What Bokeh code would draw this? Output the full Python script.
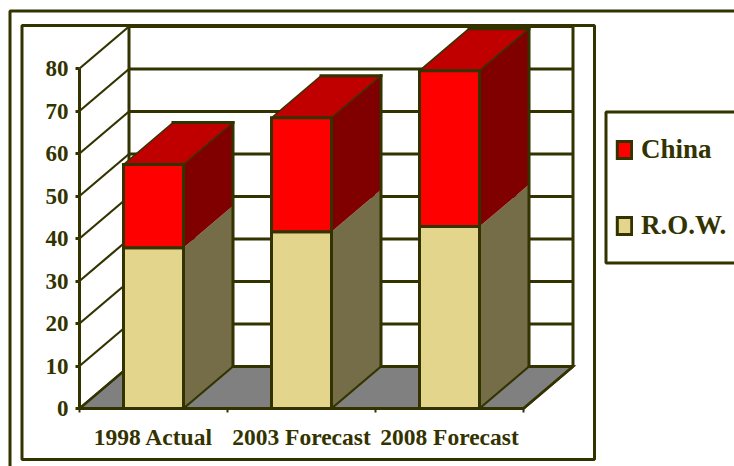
from bokeh.embed import file_html
from bokeh.models import BoxAnnotation, FixedTicker, Legend, LegendItem, Range1d
from bokeh.plotting import figure
from bokeh.resources import INLINE

categories = ["1998 Actual", "2003 Forecast", "2008 Forecast"]
row_values = [37.8, 41.6, 42.8]
china_values = [19.6, 26.8, 36.7]
y_ticks = [0, 10, 20, 30, 40, 50, 60, 70, 80]

INK = "#333300"
RED, RED_TOP, RED_SIDE = "#FF0000", "#C00000", "#800000"
TAN, TAN_SIDE = "#E3D68C", "#746D48"
FLOOR = "#808080"
FONT = "Liberation Serif"

# Scale of the plot area: one category slot and one value unit, in pixels.
WIDTH, HEIGHT = 734, 466
SLOT_PX, UNIT_PX = 148, 4.25
ORIGIN_X, ORIGIN_Y = 79, 408
DEPTH_X = 49.5 / SLOT_PX
DEPTH_Y = 42 / UNIT_PX
BAR_WIDTH = 60 / SLOT_PX
N = len(categories)

# The frame fills the page; the axes are pinned to the origin inside it.
p = figure(
    width=WIDTH, height=HEIGHT, output_backend="svg", toolbar_location=None,
    x_range=Range1d(-ORIGIN_X / SLOT_PX, (WIDTH - ORIGIN_X) / SLOT_PX),
    y_range=Range1d(-(HEIGHT - ORIGIN_Y) / UNIT_PX, ORIGIN_Y / UNIT_PX),
    min_border=0,
    outline_line_color=None, background_fill_color="white",
    border_fill_color="white",
)
p.xgrid.visible = False
p.ygrid.visible = False

# Floor of the box.
p.patch([0, N, N + DEPTH_X, DEPTH_X], [0, 0, DEPTH_Y, DEPTH_Y],
        fill_color=FLOOR, line_color=INK, line_width=2.5, line_join="miter")

# Gridlines: a diagonal on the side wall, a horizontal on the back wall.
for t in y_ticks:
    p.line([0, DEPTH_X], [t, t + DEPTH_Y], line_color=INK, line_width=2.2)
    p.line([DEPTH_X, N + DEPTH_X], [t + DEPTH_Y, t + DEPTH_Y],
           line_color=INK, line_width=3)
top = y_ticks[-1] + DEPTH_Y
p.line([DEPTH_X, DEPTH_X], [DEPTH_Y, top], line_color=INK, line_width=3)
p.line([N + DEPTH_X, N + DEPTH_X], [DEPTH_Y, top], line_color=INK, line_width=3)
p.line([N, N + DEPTH_X], [0, DEPTH_Y], line_color=INK, line_width=2.5)

# Extruded stacked bars: side and top faces first, then the front faces.
centers = [i + 0.5 for i in range(N)]
tops = [r + c for r, c in zip(row_values, china_values)]
for cx, r, t in zip(centers, row_values, tops):
    x0, x1 = cx - BAR_WIDTH / 2, cx + BAR_WIDTH / 2
    p.patch([x1, x1 + DEPTH_X, x1 + DEPTH_X, x1], [0, DEPTH_Y, r + DEPTH_Y, r],
            fill_color=TAN_SIDE, line_color=None)
    p.patch([x1, x1 + DEPTH_X, x1 + DEPTH_X, x1], [r, r + DEPTH_Y, t + DEPTH_Y, t],
            fill_color=RED_SIDE, line_color=None)
    p.patch([x0, x1, x1 + DEPTH_X, x0 + DEPTH_X], [t, t, t + DEPTH_Y, t + DEPTH_Y],
            fill_color=RED_TOP, line_color=None)
    p.line([x1, x1 + DEPTH_X], [0, DEPTH_Y], line_color=INK, line_width=2.2)
    p.line([x1 + DEPTH_X, x1 + DEPTH_X], [DEPTH_Y, t + DEPTH_Y],
           line_color=INK, line_width=3, line_cap="square")
    p.line([x0 + DEPTH_X, x1 + DEPTH_X], [t + DEPTH_Y, t + DEPTH_Y],
           line_color=INK, line_width=3, line_cap="square")
    p.line([x0, x0 + DEPTH_X], [t, t + DEPTH_Y], line_color=INK, line_width=1.5)
    p.line([x1, x1 + DEPTH_X], [t, t + DEPTH_Y], line_color=INK, line_width=1.5)

row_bars = p.vbar(x=centers, bottom=0, top=row_values, width=BAR_WIDTH,
                  fill_color=TAN, line_color=INK, line_width=3, line_join="miter")
china_bars = p.vbar(x=centers, bottom=row_values, top=tops, width=BAR_WIDTH,
                    fill_color=RED, line_color=INK, line_width=3, line_join="miter")

# Axes along the front edge of the box.
yaxis = p.yaxis[0]
yaxis.fixed_location = 0
yaxis.ticker = FixedTicker(ticks=y_ticks)
yaxis.bounds = (y_ticks[0], y_ticks[-1])
yaxis.major_tick_in = 0
yaxis.major_tick_out = 4
yaxis.minor_tick_line_color = None
yaxis.major_label_standoff = 7
yaxis.major_label_text_font = FONT
yaxis.major_label_text_font_style = "bold"
yaxis.major_label_text_font_size = "23px"
yaxis.major_label_text_color = INK
yaxis.axis_line_color = INK
yaxis.axis_line_width = 3
yaxis.major_tick_line_color = INK
yaxis.major_tick_line_width = 3

xaxis = p.xaxis[0]
xaxis.fixed_location = 0
xaxis.ticker = FixedTicker(ticks=centers, minor_ticks=list(range(N + 1)))
xaxis.major_label_overrides = dict(zip(centers, categories))
xaxis.bounds = (0, N)
xaxis.major_tick_line_color = None
xaxis.major_tick_in = 0
xaxis.major_tick_out = 0
xaxis.minor_tick_in = 0
xaxis.minor_tick_out = 4
xaxis.minor_tick_line_color = INK
xaxis.minor_tick_line_width = 2
xaxis.major_label_standoff = 11
xaxis.major_label_text_font = FONT
xaxis.major_label_text_font_style = "bold"
xaxis.major_label_text_font_size = "23.5px"
xaxis.major_label_text_color = INK
xaxis.axis_line_color = INK
xaxis.axis_line_width = 3

# Nested frames and the box behind the legend, in page pixels.
frames = [
    dict(left=9.5, right=760, top=10.5, bottom=490),
    dict(left=21.5, right=594, top=25, bottom=459),
    dict(left=605.5, right=760, top=111.5, bottom=262.5),
]
for f in frames:
    p.add_layout(BoxAnnotation(
        left=f["left"], right=f["right"], top=f["top"], bottom=f["bottom"],
        left_units="canvas", right_units="canvas",
        top_units="canvas", bottom_units="canvas",
        fill_color=None, fill_alpha=0, line_color=INK, line_alpha=1,
        line_width=3,
    ))

legend = Legend(
    items=[LegendItem(label="China", renderers=[china_bars]),
           LegendItem(label="R.O.W.", renderers=[row_bars])],
    location=(615, 225), orientation="vertical",
    background_fill_alpha=0, border_line_color=None,
    padding=12, margin=0, spacing=45,
    glyph_width=18, glyph_height=21, label_standoff=8,
    label_text_font=FONT, label_text_font_style="bold",
    label_text_font_size="27px", label_text_color=INK,
)
p.add_layout(legend)

open("out.html", "w").write(file_html(p, INLINE))
